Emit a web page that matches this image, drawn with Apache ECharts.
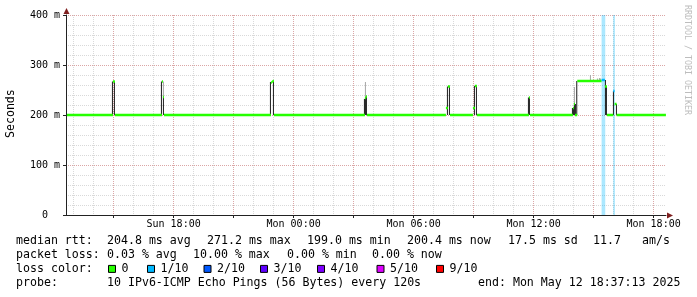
<!DOCTYPE html>
<html><head><meta charset="utf-8">
<script src="https://cdn.jsdelivr.net/npm/echarts@6/dist/echarts.min.js"></script>
<style>html,body{margin:0;padding:0;background:#fff}#c{width:697px;height:297px}</style>
</head><body><div id="c"></div>
<script>
// ---------- data ----------
const startTime = "Sun 12:37:13";
const endTime = "Mon 18:37:13";
const dataEnd = "Mon 18:37";
const xTickLabels = ["Sun 18:00", "Mon 00:00", "Mon 06:00", "Mon 12:00", "Mon 18:00"];
const yTicks = [0, 100, 200, 300, 400];

// median rtt (ms) change points: [time, value, loss index]
const medianSteps = [
  ["Sun 12:40", 200, 0], ["Sun 14:58", 267, 0], ["Sun 15:04", 200, 0],
  ["Sun 17:25", 267, 0], ["Sun 17:28", 236, 0], ["Sun 17:31", 200, 0],
  ["Sun 22:52", 265, 0], ["Sun 22:55", 267, 0], ["Sun 22:58", 268, 0], ["Sun 23:01", 200, 0],
  ["Mon 03:34", 234, 0], ["Mon 03:37", 237, 0], ["Mon 03:40", 200, 0],
  ["Mon 07:37", 214, 0], ["Mon 07:43", 257, 0], ["Mon 07:49", 200, 0],
  ["Mon 08:58", 214, 0], ["Mon 09:04", 258, 0], ["Mon 09:10", 200, 0],
  ["Mon 11:46", 235, 0], ["Mon 11:49", 200, 0],
  ["Mon 13:58", 214, 0], ["Mon 14:01", 222, 0], ["Mon 14:04", 200, 0],
  ["Mon 14:11", 268, 0], ["Mon 15:24", 270, 1], ["Mon 15:34", 257, 0], ["Mon 15:40", 200, 0],
  ["Mon 15:59", 248, 1], ["Mon 16:03", 222, 0], ["Mon 16:09", 200, 0]
];
// dense smoke (many pings spread): [time, low, high]
const smokeDark = [
  ["Sun 14:55", 200, 267], ["Sun 15:01", 200, 267],
  ["Sun 17:22", 200, 267], ["Sun 17:28", 200, 236],
  ["Sun 22:49", 200, 266], ["Sun 22:58", 200, 268],
  ["Mon 03:31", 200, 232], ["Mon 03:34", 200, 234], ["Mon 03:37", 200, 237],
  ["Mon 07:40", 200, 257], ["Mon 07:46", 200, 257],
  ["Mon 09:01", 200, 258], ["Mon 09:07", 200, 258],
  ["Mon 11:43", 200, 235], ["Mon 11:46", 200, 235],
  ["Mon 13:55", 200, 214], ["Mon 13:58", 200, 214], ["Mon 14:01", 200, 222], ["Mon 14:04", 200, 222],
  ["Mon 14:08", 200, 268],
  ["Mon 15:34", 200, 270], ["Mon 15:37", 200, 257],
  ["Mon 15:58", 200, 248], ["Mon 16:07", 200, 222]
];
// sparse smoke (few outlying pings): [time, low, high]
const smokeLight = [
  ["Sun 17:28", 236, 267], ["Mon 03:34", 234, 266], ["Mon 14:01", 222, 256],
  ["Mon 14:49", 268, 280], ["Mon 15:10", 268, 273], ["Mon 15:16", 268, 274], ["Mon 15:19", 268, 273]
];
// loss periods: [from, to, loss index]
const lossPeriods = [["Mon 15:24", "Mon 15:35", 1], ["Mon 15:59", "Mon 16:04", 1]];

const lossKeys = ["0", "1/10", "2/10", "3/10", "4/10", "5/10", "9/10"];
const lossColors = ["#26ff00", "#00b8ff", "#0059ff", "#5e00ff", "#7e00ff", "#dd00ff", "#ff0000"];

const rttTitle = "median rtt:";
const rttStats = ["204.8 ms avg", "271.2 ms max", "199.0 ms min", "200.4 ms now", "17.5 ms sd", "11.7", "am/s"];
const lossTitle = "packet loss:";
const lossStats = ["0.03 % avg", "10.00 % max", "0.00 % min", "0.00 % now"];
const colorTitle = "loss color:";
const probeTitle = "probe:";
const probeText = "10 IPv6-ICMP Echo Pings (56 Bytes) every 120s";
const endText = "end: Mon May 12 18:37:13 2025";
const yName = "Seconds";
const credit = "RRDTOOL / TOBI OETIKER";

// ---------- layout ----------
function toH(s) {
  const [d, t] = s.split(" ");
  const p = t.split(":").map(Number);
  return (d === "Mon" ? 24 : 0) + p[0] + p[1] / 60 + (p[2] || 0) / 3600;
}
const L = 66, TOP = 15, W = 600, H = 200;
const T0 = toH(startTime), T1 = toH(endTime);
const PXH = W / (T1 - T0);
const BIN = 3 / 60;
const gridFor = (a, b) => ({ left: L + (a - T0) * PXH, top: TOP, width: (b - a) * PXH, height: H });
const minorStart = Math.ceil(T0);
const majorStart = Math.ceil(T0 / 3) * 3, majorEnd = Math.floor(T1 / 3) * 3;
const minorEnd = majorStart - 1;
const labelStart = Math.ceil(T0 / 6) * 6, labelEnd = Math.floor(T1 / 6) * 6;

const MONO = '"DejaVu Sans Mono", "Liberation Mono", monospace';
const FS = 11.6;
const minorCol = "#d9d9d9", majorCol = "#dba6a6", axisCol = "#222";

const medianData = medianSteps.map((s, i) => [
  toH(s[0]),
  i + 1 < medianSteps.length ? toH(medianSteps[i + 1][0]) : toH(dataEnd),
  s[1], s[2]
]);
const smokeDarkData = smokeDark.map(s => [toH(s[0]), s[1], s[2]]);
const smokeLightData = smokeLight.map(s => [toH(s[0]), s[1], s[2]]);
const lossData = lossPeriods.map(p => [toH(p[0]), toH(p[1]), p[2]]);

function hexA(hex, a) {
  const n = parseInt(hex.slice(1), 16);
  return `rgba(${n >> 16},${(n >> 8) & 255},${n & 255},${a})`;
}

const yMin = yTicks[0], yMax = yTicks[yTicks.length - 1], yStep = yTicks[1] - yTicks[0];
const hiddenY = (gi) => ({ gridIndex: gi, type: "value", min: yMin, max: yMax, show: false });

function smokeSeries(data, color, z) {
  return {
    type: "custom", xAxisIndex: 0, yAxisIndex: 0, clip: true, z: z, silent: true,
    data: data, encode: { x: 0, y: [1, 2] },
    renderItem: (params, api) => {
      const a = api.coord([api.value(0), api.value(2)]);
      const b = api.coord([api.value(0) + BIN, api.value(1)]);
      return { type: "rect", shape: { x: a[0], y: a[1], width: b[0] - a[0], height: b[1] - a[1] }, style: { fill: color } };
    }
  };
}

// legend text elements
const graphics = [];
function txt(x, y, text) {
  graphics.push({
    type: "text", x: x, y: y, z: 100, silent: true,
    style: { text: text, font: FS + "px " + MONO, fill: "#000", align: "left", verticalAlign: "middle", textAlign: "left", textVerticalAlign: "middle" }
  });
}
const rows = [240.5, 254.7, 268.9, 283.1];
const LX = 16;
txt(LX, rows[0], rttTitle);
[107, 207, 307, 407, 508, 593, 642].forEach((x, i) => txt(x, rows[0], rttStats[i]));
txt(LX, rows[1], lossTitle);
[107, 193, 287, 372].forEach((x, i) => txt(x, rows[1], lossStats[i]));
txt(LX, rows[2], colorTitle);
[108, 147, 203.5, 260, 317, 376.5, 436].forEach((x, i) => {
  graphics.push({ type: "rect", z: 100, silent: true, shape: { x: x + 0.5, y: rows[2] - 3.5, width: 7, height: 7 },
    style: { fill: lossColors[i], stroke: "#000", lineWidth: 1 } });
  txt(x + 13.5, rows[2], lossKeys[i]);
});
txt(LX, rows[3], probeTitle);
txt(107, rows[3], probeText);
txt(478, rows[3], endText);
// y axis title
graphics.push({ type: "text", x: 10.5, y: 113.6, rotation: Math.PI / 2, z: 100, silent: true,
  style: { text: yName, font: FS + "px " + MONO, fill: "#000", align: "center", verticalAlign: "middle", textAlign: "center", textVerticalAlign: "middle" } });
// credit
graphics.push({ type: "text", x: 687, y: 60, rotation: -Math.PI / 2, z: 100, silent: true,
  style: { text: credit, font: "8.3px " + MONO, fill: "#bdbdbd", align: "center", verticalAlign: "middle", textAlign: "center", textVerticalAlign: "middle" } });
// axis arrows
graphics.push({ type: "polygon", z: 100, silent: true, shape: { points: [[L + 0.5 - 3, TOP - 1], [L + 0.5 + 3, TOP - 1], [L + 0.5, TOP - 7]] }, style: { fill: "#7f1f1f" } });
graphics.push({ type: "polygon", z: 100, silent: true, shape: { points: [[L + W + 1, TOP + H + 0.5 - 3], [L + W + 1, TOP + H + 0.5 + 3], [L + W + 7, TOP + H + 0.5]] }, style: { fill: "#7f1f1f" } });

const dotted = (c) => ({ show: true, lineStyle: { color: c, type: "dotted", width: 1 } });

const option = {
  backgroundColor: "#fff",
  animation: false,
  grid: [
    { left: L, top: TOP, width: W, height: H },
    gridFor(minorStart, minorEnd),
    gridFor(majorStart, majorEnd),
    gridFor(labelStart, labelEnd)
  ],
  xAxis: [
    { gridIndex: 0, type: "value", min: T0, max: T1,
      axisLine: { show: true, lineStyle: { color: axisCol, width: 1 } },
      axisTick: { show: false }, axisLabel: { show: false }, splitLine: { show: false } },
    // hourly minor lines before the first 3-hour line
    { gridIndex: 1, type: "value", min: minorStart, max: minorEnd, interval: 1,
      axisLine: { show: false }, axisTick: { show: false }, axisLabel: { show: false },
      splitLine: dotted(minorCol) },
    // 3-hour major lines with hourly minor lines between
    { gridIndex: 2, type: "value", min: majorStart, max: majorEnd, interval: 3,
      axisLine: { show: false }, axisLabel: { show: false },
      axisTick: { show: true, length: 3, lineStyle: { color: axisCol } },
      splitLine: dotted(majorCol),
      minorTick: { show: false, splitNumber: 3 },
      minorSplitLine: dotted(minorCol) },
    { gridIndex: 3, type: "value", min: labelStart, max: labelEnd, interval: 6,
      axisLine: { show: false }, axisTick: { show: false }, splitLine: { show: false },
      axisLabel: { show: true, margin: 4, showMinLabel: true, showMaxLabel: true,
        fontFamily: MONO, fontSize: 10, color: "#000",
        formatter: v => xTickLabels[Math.round((v - labelStart) / 6)] } }
  ],
  yAxis: [
    { gridIndex: 0, type: "value", min: yMin, max: yMax, interval: yStep,
      axisLine: { show: true, lineStyle: { color: axisCol, width: 1 } },
      axisTick: { show: true, length: 3, lineStyle: { color: axisCol } },
      axisLabel: { show: true, margin: 6, fontFamily: MONO, fontSize: 10, color: "#000",
        formatter: v => (v === 0 ? "0  " : v + " m") },
      splitLine: dotted(majorCol),
      minorTick: { show: false, splitNumber: 5 },
      minorSplitLine: dotted(minorCol) },
    hiddenY(1), hiddenY(2), hiddenY(3)
  ],
  series: [
    { type: "custom", xAxisIndex: 0, yAxisIndex: 0, clip: true, z: 1, silent: true,
      data: lossData, encode: { x: [0, 1] },
      renderItem: (params, api) => {
        const a = api.coord([api.value(0), yMax]);
        const b = api.coord([api.value(1), yMin]);
        return { type: "rect", shape: { x: a[0], y: a[1], width: b[0] - a[0], height: b[1] - a[1] },
          style: { fill: hexA(lossColors[api.value(2)], 0.33) } };
      } },
    smokeSeries(smokeLightData, "#a6a6a6", 2),
    smokeSeries(smokeDarkData, "#1c1c1c", 3),
    { type: "custom", xAxisIndex: 0, yAxisIndex: 0, clip: true, z: 4, silent: true,
      data: medianData, encode: { x: [0, 1], y: 2 },
      renderItem: (params, api) => {
        const a = api.coord([api.value(0), api.value(2)]);
        const b = api.coord([api.value(1), api.value(2)]);
        return { type: "line", shape: { x1: a[0], y1: a[1], x2: b[0], y2: b[1] },
          style: { stroke: lossColors[api.value(3)], lineWidth: 2.5, lineCap: "butt" } };
      } }
  ],
  graphic: graphics
};
const chart = echarts.init(document.getElementById("c"));
chart.setOption(option);
</script>
</body></html>
